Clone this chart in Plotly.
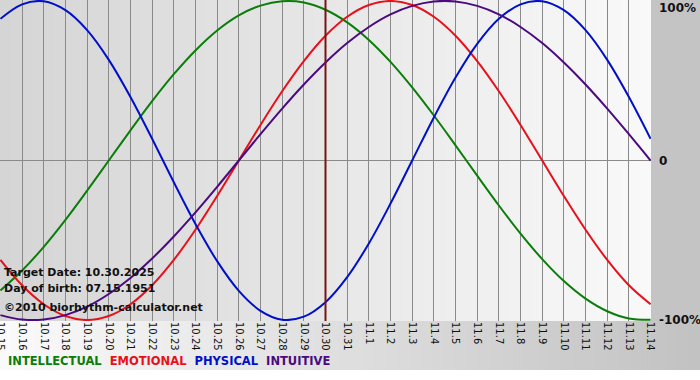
import plotly.graph_objects as go

dates = ["10.15", "10.16", "10.17", "10.18", "10.19", "10.20", "10.21", "10.22",
         "10.23", "10.24", "10.25", "10.26", "10.27", "10.28", "10.29", "10.30",
         "10.31", "11.1", "11.2", "11.3", "11.4", "11.5", "11.6", "11.7", "11.8",
         "11.9", "11.10", "11.11", "11.12", "11.13", "11.14"]

physical = [0.888, 0.979, 0.998, 0.942, 0.817, 0.631, 0.398, 0.136, -0.136, -0.398,
            -0.631, -0.817, -0.942, -0.998, -0.979, -0.888, -0.731, -0.520, -0.270,
            0.000, 0.270, 0.520, 0.731, 0.888, 0.979, 0.998, 0.942, 0.817, 0.631,
            0.398, 0.136]
emotional = [-0.623, -0.782, -0.901, -0.975, -1.000, -0.975, -0.901, -0.782, -0.623,
             -0.434, -0.223, 0.000, 0.223, 0.434, 0.623, 0.782, 0.901, 0.975, 1.000,
             0.975, 0.901, 0.782, 0.623, 0.434, 0.223, 0.000, -0.223, -0.434, -0.623,
             -0.782, -0.901]
intellectual = [-0.815, -0.690, -0.541, -0.372, -0.189, 0.000, 0.189, 0.372, 0.541,
                0.690, 0.815, 0.910, 0.971, 0.998, 0.990, 0.945, 0.866, 0.756, 0.618,
                0.458, 0.282, 0.095, -0.095, -0.282, -0.458, -0.618, -0.756, -0.866,
                -0.945, -0.990, -0.998]
intuitive = [-0.969, -0.997, -0.997, -0.969, -0.916, -0.837, -0.736, -0.614, -0.476,
             -0.325, -0.165, 0.000, 0.165, 0.325, 0.476, 0.614, 0.736, 0.837, 0.916,
             0.969, 0.997, 0.997, 0.969, 0.916, 0.837, 0.736, 0.614, 0.476, 0.325,
             0.165, 0.000]

target_date = "10.30"
info_lines = ["Target Date: 10.30.2025", "Day of birth: 07.15.1951",
              "\u00a92010 biorhythm-calculator.net"]
right_labels = ["100%", "0", "-100%"]
right_values = [1, 0, -1]

series = [
    ("INTELLECTUAL", intellectual, "#0a7d0a"),
    ("EMOTIONAL", emotional, "#e8101a"),
    ("PHYSICAL", physical, "#0010c8"),
    ("INTUITIVE", intuitive, "#4a0a80"),
]

W, H = 700, 380
ML, MR, MT, MB = 0, 49, 0, 59
PW = W - ML - MR
PH = H - MT - MB

fig = go.Figure()

for name, vals, col in series:
    fig.add_trace(go.Scatter(x=dates, y=vals, mode="lines", name=name,
                             line=dict(color=col, width=2, shape="spline",
                                       smoothing=1.0),
                             showlegend=False, hoverinfo="skip"))

shapes = []

def grey(v):
    v = int(round(v))
    return f"rgb({v},{v},{v})"

# plot-area gradient
N = 60
for k in range(N):
    c = 213 + (249 - 213) * k / (N - 1)
    shapes.append(dict(type="rect", xref="x domain", yref="y domain",
                       x0=k / N, x1=(k + 1) / N + 0.002, y0=0, y1=1,
                       fillcolor=grey(c), line=dict(width=0), layer="below"))
# bottom band gradient
band_h = 49 / PH
xr = W / PW
for k in range(N):
    c = 250 + (194 - 250) * k / (N - 1)
    shapes.append(dict(type="rect", xref="paper", yref="paper",
                       x0=xr * k / N, x1=xr * (k + 1) / N + 0.002,
                       y0=-band_h, y1=0,
                       fillcolor=grey(c), line=dict(width=0), layer="below"))
# right panel
shapes.append(dict(type="rect", xref="paper", yref="paper", x0=1, x1=xr,
                   y0=0, y1=1, fillcolor="#c4c4c4", line=dict(width=0),
                   layer="below"))

fig.update_layout(shapes=shapes)

fig.add_vline(x=dates.index(target_date), line=dict(color="#7a1414", width=2))

annotations = []
info_y = [272, 288, 307]
for txt, py in zip(info_lines, info_y):
    annotations.append(dict(text=f"<b>{txt}</b>", xref="paper", yref="paper",
                            x=2 / PW, y=(PH - py) / PH, xanchor="left",
                            yanchor="middle", showarrow=False,
                            font=dict(family="DejaVu Sans", size=11, color="#111111")))
for txt, v in zip(right_labels, right_values):
    annotations.append(dict(text=f"<b>{txt}</b>", xref="paper", yref="y",
                            x=1, y=v, xanchor="left", yanchor="middle",
                            xshift=6 if txt != "0" else 6, yshift=-7 if v == 1 else 0,
                            showarrow=False,
                            font=dict(family="DejaVu Sans", size=12, color="#111111")))
legend_html = "  ".join(f"<span style='color:{c}'>{n}</span>" for n, _, c in series)
annotations.append(dict(text=f"<b>{legend_html}</b>", xref="paper", yref="paper",
                        x=6 / PW, y=(PH - 361) / PH, xanchor="left", yanchor="middle",
                        showarrow=False,
                        font=dict(family="DejaVu Sans", size=11.5)))

fig.update_layout(
    width=W, height=H,
    margin=dict(l=ML, r=MR, t=MT, b=MB, pad=0, autoexpand=False),
    paper_bgcolor="white",
    plot_bgcolor="rgba(0,0,0,0)",
    annotations=annotations,
    xaxis=dict(type="category", range=[-0.02, 30.02], showgrid=True,
               gridcolor="#8a8a8a", gridwidth=1, tickangle=90, automargin=False,
               tickfont=dict(family="DejaVu Sans", size=10, color="#111111"),
               ticks="", zeroline=False, showline=False, fixedrange=True),
    yaxis=dict(range=[-1.006, 1.006], tickvals=[0], showticklabels=False,
               showgrid=True, gridcolor="#8a8a8a", gridwidth=1, zeroline=False,
               showline=False, fixedrange=True, automargin=False),
)

fig.write_html("out.html", config={"displayModeBar": False},
               post_script="document.body.style.margin='0';document.body.style.padding='0';")
